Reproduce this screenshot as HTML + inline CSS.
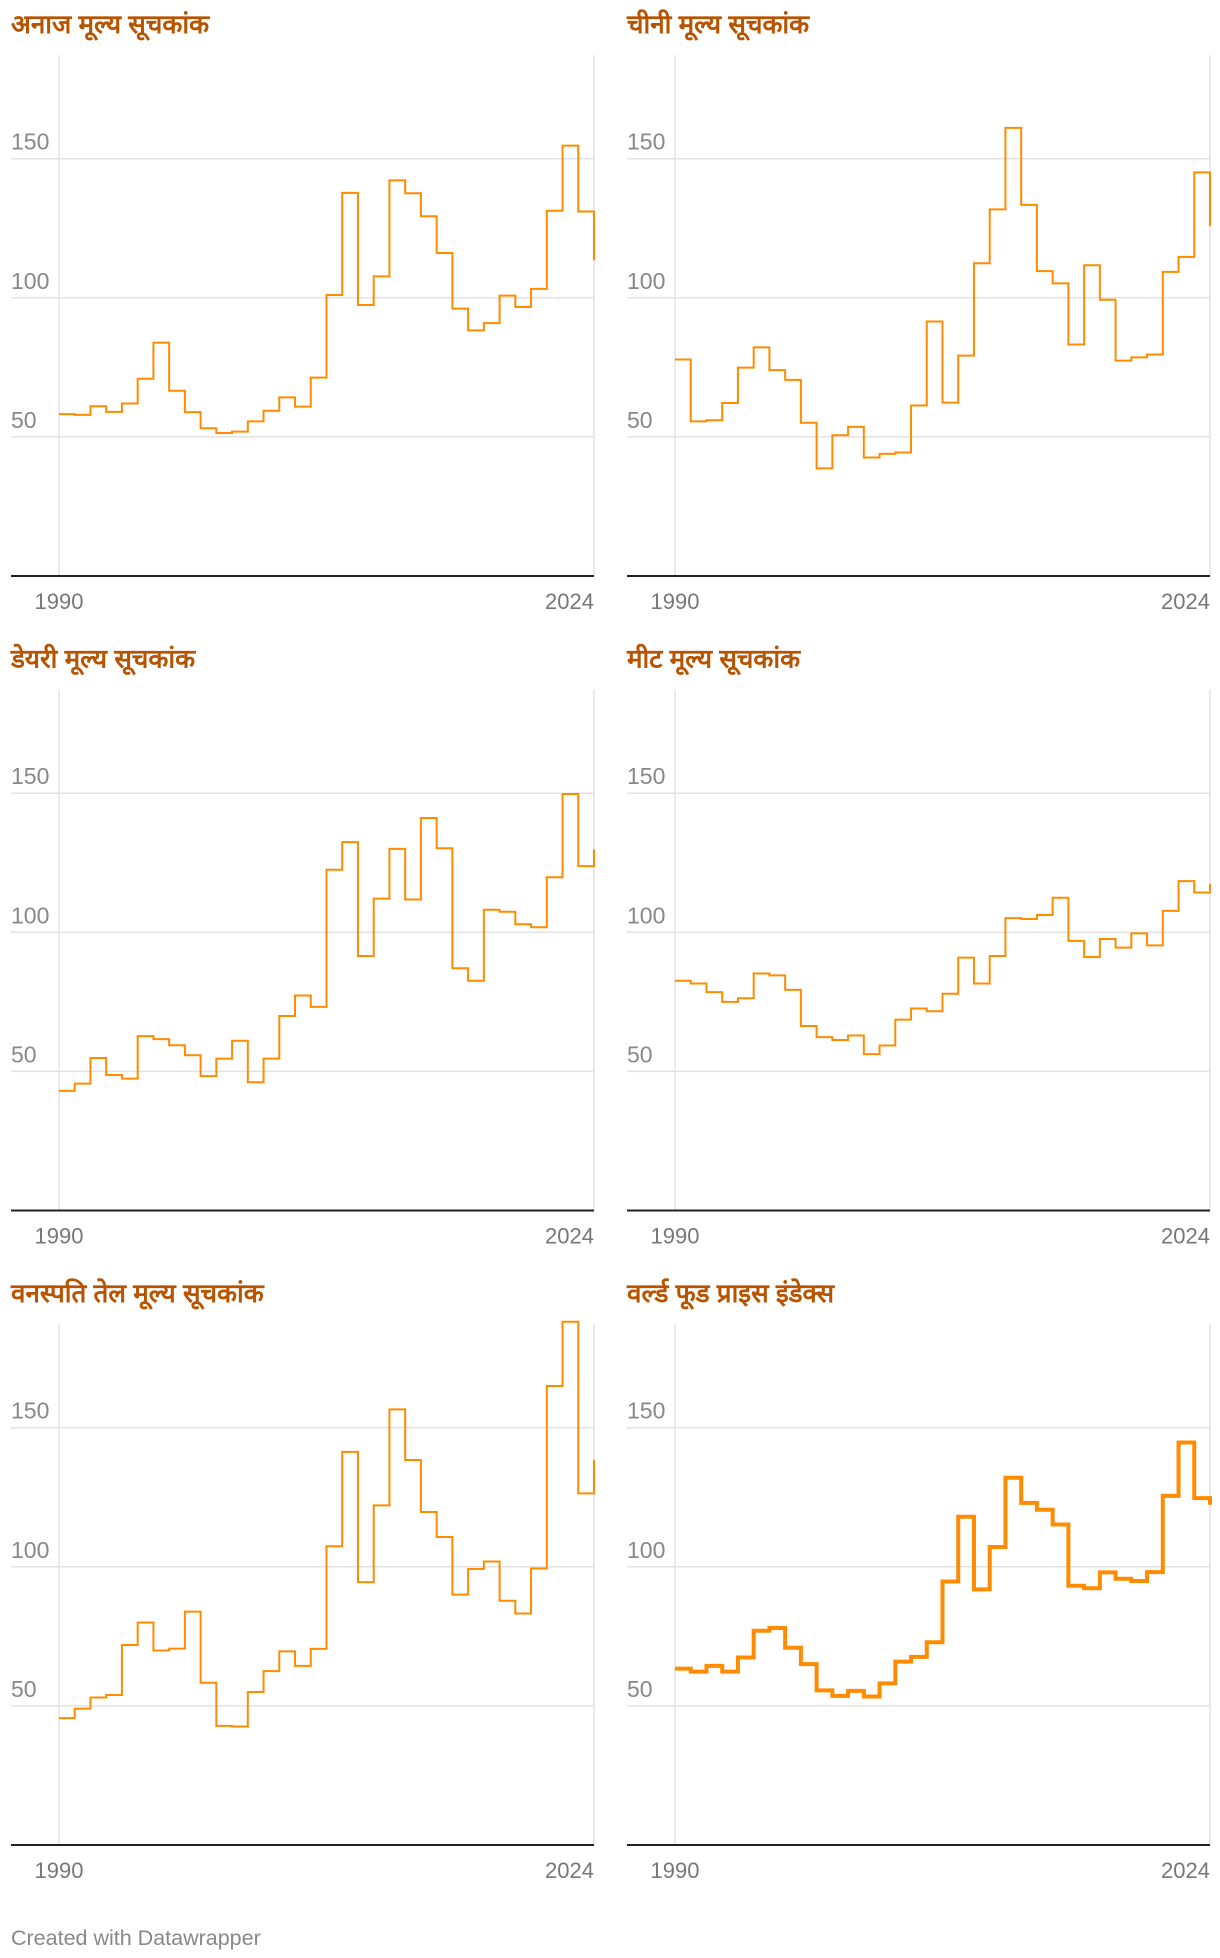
<!DOCTYPE html>
<html><head><meta charset="utf-8"><style>
html,body{margin:0;padding:0;background:#fff;}
svg{display:block;font-family:"Liberation Sans","Noto Sans CJK SC",sans-serif;}
</style></head><body>
<svg id="chart" width="1220" height="1958" viewBox="0 0 1220 1958" xmlns="http://www.w3.org/2000/svg">
<text x="11" y="1945" font-size="21.5" fill="#888">Created with Datawrapper</text>
</svg>
<script>
const years = [1990,1991,1992,1993,1994,1995,1996,1997,1998,1999,2000,2001,2002,2003,2004,2005,2006,2007,2008,2009,2010,2011,2012,2013,2014,2015,2016,2017,2018,2019,2020,2021,2022,2023,2024];
const cerealValues = [58.2,57.9,61.0,59.0,62.0,70.9,83.9,66.6,58.9,53.1,51.4,51.9,55.6,59.4,64.2,60.9,71.3,101,137.7,97.4,107.7,142.2,137.6,129.3,116.1,96.1,88.3,90.9,100.8,96.7,103.2,131.3,154.7,131.0,113.5];
const sugarValues = [77.8,55.6,56.0,62.2,74.9,82.2,74.0,70.5,55.1,38.7,50.6,53.6,42.6,43.9,44.4,61.3,91.5,62.3,79.2,112.4,131.8,161.1,133.4,109.6,105.2,83.2,111.7,99.3,77.4,78.6,79.6,109.3,114.7,145.1,125.8];
const dairyValues = [43.0,45.6,54.8,48.7,47.4,62.7,61.6,59.4,55.8,48.3,54.6,61.0,46.1,54.6,69.9,77.3,73.2,122.5,132.4,91.5,112.1,130.0,111.8,141.1,130.2,87.1,82.6,108.1,107.4,102.9,101.8,119.8,149.7,123.8,129.8];
const meatValues = [82.6,81.6,78.5,75.0,76.3,85.2,84.5,79.3,66.3,62.3,61.3,62.9,56.2,59.3,68.6,72.6,71.6,77.9,90.9,81.6,91.5,105.1,104.8,106.2,112.4,96.9,91.1,97.6,94.5,99.6,95.3,107.7,118.4,114.3,117.4];
const oilValues = [45.6,49.0,53.0,53.9,71.9,80.0,69.9,70.6,83.9,58.3,42.8,42.6,55.0,62.5,69.6,64.4,70.5,107.4,141.3,94.5,122.1,156.6,138.4,119.7,110.7,90.0,99.2,101.9,87.8,83.2,99.4,165.0,188.1,126.4,138.5];
const worldValues = [63.4,62.3,64.4,62.3,67.4,77.0,78.0,70.9,65.0,55.6,53.6,55.4,53.4,58.1,65.9,67.6,72.9,94.7,118.0,91.9,107.1,132.0,123.0,120.5,115.2,93.2,92.3,98.0,95.7,94.9,98.1,125.5,144.7,124.7,122.3];
const yTicks = [50,100,150];
const xTickLabels = ["1990","2024"];
const titles = ["अनाज मूल्य सूचकांक","चीनी मूल्य सूचकांक","डेयरी मूल्य सूचकांक","मीट मूल्य सूचकांक","वनस्पति तेल मूल्य सूचकांक","वर्ल्ड फूड प्राइस इंडेक्स"];
const seriesNames = ["cereal","sugar","dairy","meat","vegetable-oil","world-food"];
const series = [cerealValues,sugarValues,dairyValues,meatValues,oilValues,worldValues];

const NS = "http://www.w3.org/2000/svg";
const svg = document.getElementById('chart');
function mk(tag, attrs, parent){const e=document.createElementNS(NS,tag);for(const k in attrs)e.setAttribute(k,attrs[k]);(parent||svg).appendChild(e);return e;}

series.forEach((vals, i) => {
  const col = i % 2, row = Math.floor(i / 2);
  const ox = col === 0 ? 0 : 616;
  const oy = row * 634.5;
  const x0 = 59 + ox, x1 = 594 + ox, left = 11 + ox;
  const base = 576 + oy, top = 55 + oy;
  const pxPer = 139.1 / 50;
  const xs = y => x0 + (y - years[0]) / (years[years.length-1] - years[0]) * (x1 - x0);
  const ys = v => base - v * pxPer;
  const g = mk('g', {});
  
  
  const t = mk('text', {x: left, y: 33 + oy, 'font-size': 26, 'font-weight': 'bold', fill: '#b85400', 'font-family': '"Liberation Sans","Noto Sans CJK SC",sans-serif'}, g);
  t.textContent = titles[i];
  
  
  [x0, x1].forEach(x => {
    const l = mk('line', {x1: x, x2: x, y1: top, y2: base, stroke: '#e3e3e3', 'stroke-width': 1.5}, g);
    
    
  });
  yTicks.forEach(v => {
    const l = mk('line', {x1: left, x2: x1, y1: ys(v), y2: ys(v), stroke: '#e3e3e3', 'stroke-width': 1.5}, g);
    
    
    const tx = mk('text', {x: left, y: ys(v) - 9, 'font-size': 23, fill: '#888'}, g);
    tx.textContent = String(v);
    
    
  });
  let d = '';
  vals.forEach((v, k) => {
    const x = xs(years[k]), y = ys(v);
    if (k === 0) d += 'M' + x + ',' + y;
    else d += 'H' + x + 'V' + y;
  });
  const p = mk('path', {d: d, fill: 'none', stroke: '#ff8c00', 'stroke-width': i === 5 ? 4 : 2, 'stroke-linejoin': 'miter'}, g);
  
  
  const b = mk('line', {x1: left, x2: x1, y1: base, y2: base, stroke: '#222', 'stroke-width': 2}, g);
  
  
  const l1 = mk('text', {x: x0, y: base + 33, 'font-size': 22, fill: '#777', 'text-anchor': 'middle'}, g);
  l1.textContent = xTickLabels[0];
  
  
  const l2 = mk('text', {x: x1, y: base + 33, 'font-size': 22, fill: '#777', 'text-anchor': 'end'}, g);
  l2.textContent = xTickLabels[1];
  
  
});
</script>
</body></html>
